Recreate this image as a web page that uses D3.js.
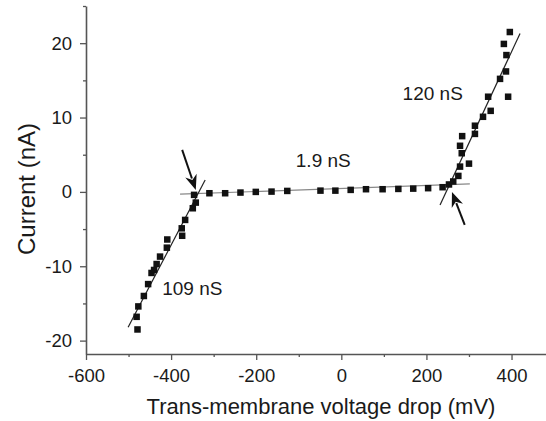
<!DOCTYPE html>
<html>
<head>
<meta charset="utf-8">
<script src="https://cdn.jsdelivr.net/npm/d3@7"></script>
<style>
  html, body { margin: 0; padding: 0; background: #fff; }
  svg { display: block; font-family: "Liberation Sans", Arial, Helvetica, sans-serif; }
</style>
</head>
<body>
<svg id="chart" width="546" height="421"></svg>
<script>
// ---- data (voltage mV, current nA) ----
const leftX  = [-346, -342, -349, -367, -375, -374, -409, -410, -426, -434, -440, -446, -454, -464, -477, -481, -479];
const leftY  = [-0.4, -1.44, -2.2, -3.77, -4.9, -5.9, -6.4, -7.5, -8.7, -9.7, -10.5, -10.9, -12.4, -14.0, -15.4, -16.8, -18.5];
const flatX  = [-310, -273, -237, -201, -164, -127, -49, -14, 22, 58, 97, 134, 169, 204, 238];
const flatY  = [-0.18, -0.18, -0.09, 0.0, 0.04, 0.13, 0.17, 0.17, 0.27, 0.36, 0.36, 0.40, 0.44, 0.50, 0.63];
const rightX = [253, 263, 275, 279, 300, 283, 279, 284, 314, 314, 333, 351, 345, 392, 373, 387, 388, 382, 396];
const rightY = [1.0, 1.4, 2.15, 3.4, 3.8, 5.2, 6.2, 7.5, 7.8, 8.9, 10.1, 10.9, 12.8, 12.8, 15.2, 16.2, 18.4, 19.9, 21.5];

// fit lines [x1, y1, x2, y2]
const fitLeft  = [-501, -18.2, -320, 1.6];
const fitFlat  = [-379, -0.31, 302, 1.08];
const fitRight = [232, -1.75, 420, 21.3];

// arrows [fromX, fromY, tipX, tipY]
const arrowLeft  = [-374, 5.65, -342, 0.27];
const arrowRight = [290, -4.44, 260, 0.0];

// annotation labels
const labelTexts = ["109 nS", "1.9 nS", "120 nS"];
const labelX = [-421, -107, 144];
const labelY = [-13.85, 3.36, 12.3];

// ticks
const xTicks = [-600, -400, -200, 0, 200, 400];
const xMinor = [-500, -300, -100, 100, 300];
const yTicks = [-20, -10, 0, 10, 20];
const yMinor = [-15, -5, 5, 15, 25];

const xTitle = "Trans-membrane voltage drop (mV)";
const yTitle = "Current (nA)";

// ---- drawing ----
const svg = d3.select("#chart");
const x = d3.scaleLinear().domain([-600, 481]).range([86, 546]);
const y = d3.scaleLinear().domain([-21.8, 25]).range([354, 6]);

const axisColor = "#555";
const textColor = "#1a1a1a";
const fmt = d => String(d);

// x axis
const gx = svg.append("g").attr("transform", `translate(0,${y(-21.8)})`);
gx.call(d3.axisBottom(x).tickValues(xTicks).tickSize(6).tickSizeOuter(0).tickPadding(9).tickFormat(fmt));
const gxm = svg.append("g").attr("transform", `translate(0,${y(-21.8)})`);
gxm.call(d3.axisBottom(x).tickValues(xMinor).tickSize(3).tickSizeOuter(0).tickFormat(""));
gxm.select(".domain").remove();

// y axis
const gy = svg.append("g").attr("transform", `translate(${x(-600)},0)`);
gy.call(d3.axisLeft(y).tickValues(yTicks).tickSize(6).tickSizeOuter(0).tickPadding(8).tickFormat(fmt));
const gym = svg.append("g").attr("transform", `translate(${x(-600)},0)`);
gym.call(d3.axisLeft(y).tickValues(yMinor).tickSize(3).tickSizeOuter(0).tickFormat(""));
gym.select(".domain").remove();

svg.selectAll(".domain").attr("stroke", axisColor).attr("stroke-width", 1.6);
svg.selectAll(".tick line").attr("stroke", axisColor).attr("stroke-width", 1.3);
svg.selectAll(".tick text").attr("fill", textColor).attr("font-size", 18.5)
   .attr("font-family", "Liberation Sans, Arial, sans-serif");

// titles
svg.append("text").attr("x", 321).attr("y", 414).attr("text-anchor", "middle")
  .attr("font-size", 22).attr("fill", textColor).text(xTitle);
svg.append("text").attr("transform", `translate(35,${189}) rotate(-90)`).attr("text-anchor", "middle")
  .attr("font-size", 24).attr("fill", textColor).text(yTitle);

// fit lines
function seg(a, color, w) {
  svg.append("line").attr("x1", x(a[0])).attr("y1", y(a[1])).attr("x2", x(a[2])).attr("y2", y(a[3]))
    .attr("stroke", color).attr("stroke-width", w);
}
seg(fitFlat, "#888", 1.2);
seg(fitLeft, "#222", 1.2);
seg(fitRight, "#222", 1.2);

// points
const pts = [];
leftX.forEach((v, i) => pts.push([v, leftY[i]]));
flatX.forEach((v, i) => pts.push([v, flatY[i]]));
rightX.forEach((v, i) => pts.push([v, rightY[i]]));
const ms = 6.5;
svg.append("g").selectAll("rect").data(pts).join("rect")
  .attr("x", d => x(d[0]) - ms / 2).attr("y", d => y(d[1]) - ms / 2)
  .attr("width", ms).attr("height", ms).attr("fill", "#111");

// arrows
function arrow(a) {
  const x1 = x(a[0]), y1 = y(a[1]), x2 = x(a[2]), y2 = y(a[3]);
  const ang = Math.atan2(y2 - y1, x2 - x1);
  const hl = 15, hw = 6;
  const bx = x2 - hl * Math.cos(ang), by = y2 - hl * Math.sin(ang);
  svg.append("line").attr("x1", x1).attr("y1", y1).attr("x2", bx + 3 * Math.cos(ang)).attr("y2", by + 3 * Math.sin(ang))
    .attr("stroke", "#111").attr("stroke-width", 2);
  const px = -Math.sin(ang), py = Math.cos(ang);
  svg.append("path")
    .attr("d", `M${x2},${y2}L${bx + px * hw},${by + py * hw}L${bx + hl*0.3*Math.cos(ang)},${by + hl*0.3*Math.sin(ang)}L${bx - px * hw},${by - py * hw}Z`)
    .attr("fill", "#111");
}
arrow(arrowLeft);
arrow(arrowRight);

// labels
svg.append("g").selectAll("text").data(labelTexts).join("text")
  .attr("x", (d, i) => x(labelX[i])).attr("y", (d, i) => y(labelY[i]))
  .attr("font-size", 19).attr("fill", textColor).text(d => d);
</script>
</body>
</html>
